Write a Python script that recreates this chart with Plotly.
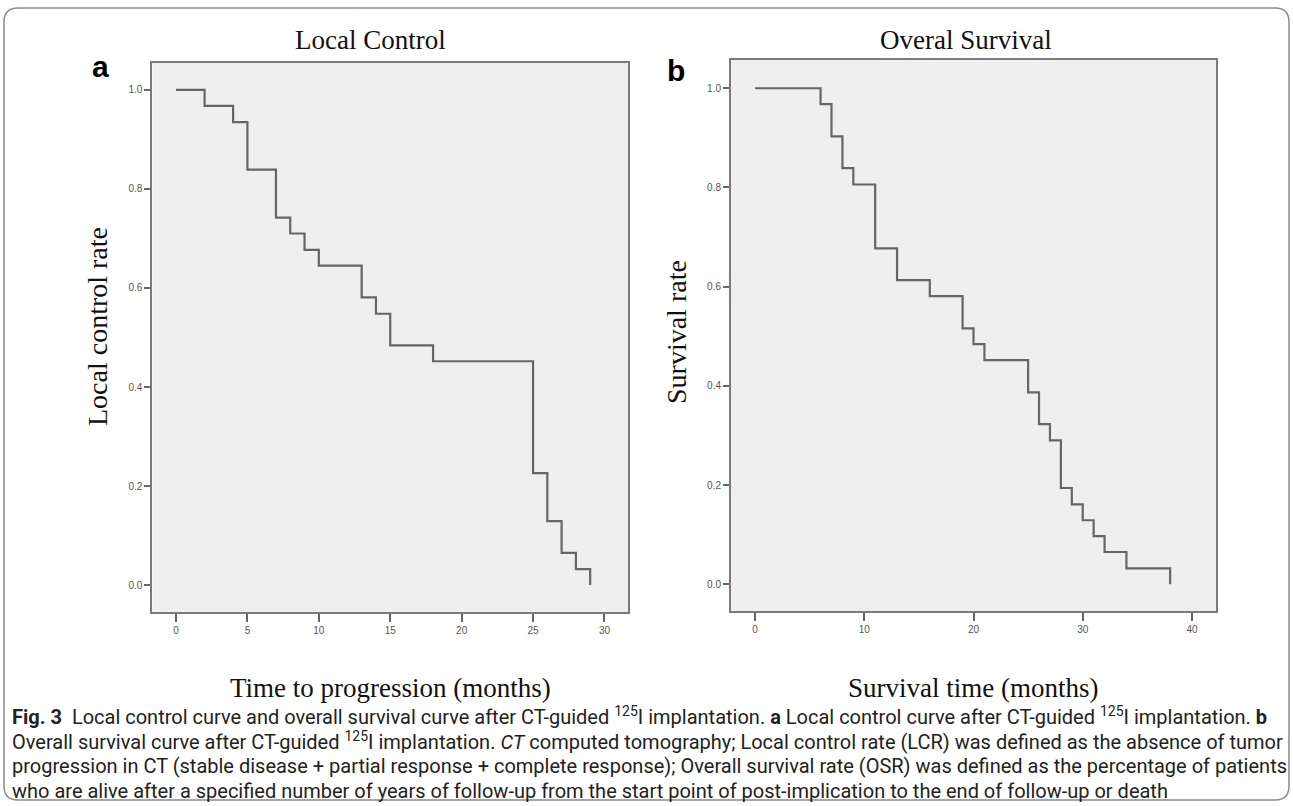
import plotly.graph_objects as go

# ---- data ----
lc_time = [0, 2, 4, 5, 7, 8, 9, 10, 13, 14, 15, 18, 25, 26, 27, 28, 29]
lc_rate = [1.0, 0.968, 0.935, 0.839, 0.742, 0.710, 0.677, 0.645, 0.581, 0.548,
           0.484, 0.452, 0.226, 0.129, 0.065, 0.032, 0.0]

os_time = [0, 6, 7, 8, 9, 11, 13, 16, 19, 20, 21, 25, 26, 27, 28, 29, 30, 31, 32, 34, 38]
os_rate = [1.0, 0.968, 0.903, 0.839, 0.806, 0.677, 0.613, 0.581, 0.516, 0.484, 0.452,
           0.387, 0.323, 0.290, 0.194, 0.161, 0.129, 0.097, 0.065, 0.032, 0.0]

lc_xticks = [0, 5, 10, 15, 20, 25, 30]
os_xticks = [0, 10, 20, 30, 40]
y_ticks = [0.0, 0.2, 0.4, 0.6, 0.8, 1.0]

panel_titles = ["Local Control", "Overal Survival"]
x_titles = ["Time to progression (months)", "Survival time (months)"]
y_titles = ["Local control rate", "Survival rate"]
panel_letters = ["a", "b"]

caption_lines = [
    "<b>Fig. 3</b>  Local control curve and overall survival curve after CT-guided <sup>125</sup>I implantation. "
    "<b>a</b> Local control curve after CT-guided <sup>125</sup>I implantation. <b>b</b>",
    "Overall survival curve after CT-guided <sup>125</sup>I implantation. <i>CT</i> computed tomography; "
    "Local control rate (LCR) was defined as the absence of tumor",
    "progression in CT (stable disease + partial response + complete response); Overall survival rate (OSR) "
    "was defined as the percentage of patients",
    "who are alive after a specified number of years of follow-up from the start point of post-implication "
    "to the end of follow-up or death",
]

W, H = 1293, 806


def px(x):
    return x / W


def py(y):
    return 1 - y / H


fig = go.Figure()
line_style = dict(color="#666666", width=2.2, shape="hv")
fig.add_trace(go.Scatter(x=lc_time, y=lc_rate, mode="lines", line=line_style,
                         xaxis="x", yaxis="y", showlegend=False))
fig.add_trace(go.Scatter(x=os_time, y=os_rate, mode="lines", line=line_style,
                         xaxis="x2", yaxis="y2", showlegend=False))

tickfont = dict(family="Liberation Sans Narrow, Arial, sans-serif", size=10, color="#555555")
common_axis = dict(showgrid=False, zeroline=False, showline=True, mirror=True,
                   linecolor="#7a7a7a", linewidth=2, ticks="outside",
                   tickcolor="#666666", tickwidth=2, tickfont=tickfont, fixedrange=True)

fig.update_layout(
    width=W, height=H,
    margin=dict(l=0, r=0, t=0, b=0),
    paper_bgcolor="white",
    plot_bgcolor="#efefef",
    xaxis=dict(domain=[px(152.3), px(628.3)], range=[-1.66, 31.67], tickvals=lc_xticks,
               ticklen=8, anchor="y", **common_axis),
    yaxis=dict(domain=[py(612.3), py(62.7)], range=[-0.055, 1.055], tickvals=y_ticks,
               tickformat=".1f", ticklen=6, anchor="x", **common_axis),
    xaxis2=dict(domain=[px(731), px(1216)], range=[-2.2, 42.2], tickvals=os_xticks,
                ticklen=8, anchor="y2", **common_axis),
    yaxis2=dict(domain=[py(611), py(60)], range=[-0.054, 1.057], tickvals=y_ticks,
                tickformat=".1f", ticklen=6, anchor="x2", **common_axis),
)

serif = "Liberation Serif, Times New Roman, serif"
ann = []
# panel titles
for txt, cx in zip(panel_titles, [370, 966]):
    ann.append(dict(text=txt, x=px(cx), y=py(40), xref="paper", yref="paper",
                    showarrow=False, font=dict(family=serif, size=27, color="#111111"),
                    xanchor="center", yanchor="middle"))
# x titles
for txt, cx in zip(x_titles, [390, 973]):
    ann.append(dict(text=txt, x=px(cx), y=py(688), xref="paper", yref="paper",
                    showarrow=False, font=dict(family=serif, size=27, color="#111111"),
                    xanchor="center", yanchor="middle"))
# y titles
for txt, cx, cy in zip(y_titles, [97, 676], [327, 332]):
    ann.append(dict(text=txt, x=px(cx), y=py(cy), xref="paper", yref="paper",
                    showarrow=False, textangle=-90,
                    font=dict(family=serif, size=28, color="#111111"),
                    xanchor="center", yanchor="middle"))
# panel letters
for txt, cx, cy in zip(panel_letters, [100, 676], [66, 70]):
    ann.append(dict(text="<b>" + txt + "</b>", x=px(cx), y=py(cy), xref="paper", yref="paper",
                    showarrow=False, font=dict(family="Liberation Sans, Arial, sans-serif",
                                               size=30, color="#000000"),
                    xanchor="center", yanchor="middle"))
# caption
for i, line in enumerate(caption_lines):
    ann.append(dict(text=line, x=px(10), y=py(716 + 25 * i), xref="paper", yref="paper",
                    showarrow=False, font=dict(family="Roboto, sans-serif",
                                               size=20, color="#222222"),
                    xanchor="left", yanchor="middle", align="left"))
fig.update_layout(annotations=ann)

# rounded frame around the whole figure
x0, y0, x1, y1, r = 4, 8, 1289, 800, 14
path = (f"M {px(x0 + r)},{py(y0)} L {px(x1 - r)},{py(y0)} "
        f"Q {px(x1)},{py(y0)} {px(x1)},{py(y0 + r)} "
        f"L {px(x1)},{py(y1 - r)} Q {px(x1)},{py(y1)} {px(x1 - r)},{py(y1)} "
        f"L {px(x0 + r)},{py(y1)} Q {px(x0)},{py(y1)} {px(x0)},{py(y1 - r)} "
        f"L {px(x0)},{py(y0 + r)} Q {px(x0)},{py(y0)} {px(x0 + r)},{py(y0)} Z")
fig.add_shape(type="path", path=path, xref="paper", yref="paper",
              line=dict(color="#8a8a8a", width=1.5), fillcolor="rgba(0,0,0,0)", layer="below")

fig.write_html("out.html", config={"displayModeBar": False, "responsive": False},
               post_script="document.body.style.margin='0';")
